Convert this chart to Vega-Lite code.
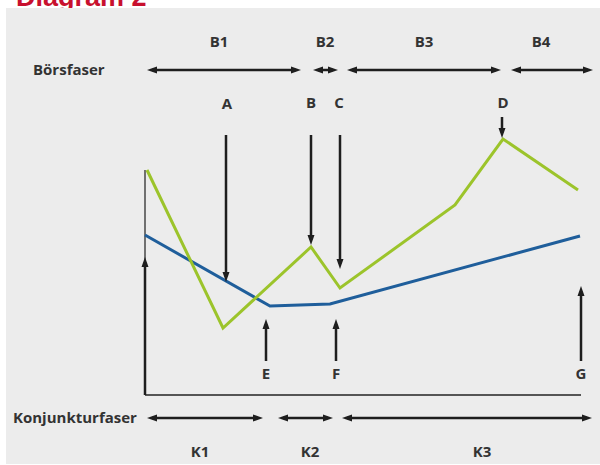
{
  "$schema": "https://vega.github.io/schema/vega-lite/v6.json",
  "width": 600,
  "height": 465,
  "autosize": {"type": "none"},
  "padding": 0,
  "background": "#ffffff",
  "config": {"view": {"stroke": null}},
  "datasets": {
    "title": [{"t": "Diagram 2", "x": 3.2, "y": 91.8}],
    "panel": [{"x": 1.2, "x2": 120, "y": 0.2, "y2": 91.4}],
    "axisV": [{"x": 29, "y": 14, "y2": 59}],
    "axisH": [{"x": 29, "x2": 116.2, "y": 14}],
    "blue": [
      {"x": 29, "y": 46},
      {"x": 54, "y": 31.8},
      {"x": 66, "y": 32.2},
      {"x": 116, "y": 45.8}
    ],
    "green": [
      {"x": 29.4, "y": 59},
      {"x": 44.6, "y": 27.4},
      {"x": 62.2, "y": 43.6},
      {"x": 68, "y": 35.4},
      {"x": 91, "y": 52},
      {"x": 100.6, "y": 65.2},
      {"x": 115.6, "y": 55}
    ],
    "vshafts": [
      {"x": 45.2, "y": 66, "y2": 37.6},
      {"x": 62.2, "y": 66, "y2": 45},
      {"x": 68, "y": 66, "y2": 40.2},
      {"x": 100.4, "y": 69.6, "y2": 66.4},
      {"x": 53.2, "y": 20.8, "y2": 28.2},
      {"x": 67.2, "y": 20.8, "y2": 28.2},
      {"x": 116.2, "y": 20.8, "y2": 34.8},
      {"x": 29, "y": 14, "y2": 40.6}
    ],
    "hshafts": [
      {"x": 30.4, "x2": 59.2, "y": 79},
      {"x": 63.6, "x2": 66.6, "y": 79},
      {"x": 70.4, "x2": 99.2, "y": 79},
      {"x": 103.2, "x2": 117.6, "y": 79},
      {"x": 30.4, "x2": 51.6, "y": 9.4},
      {"x": 56.6, "x2": 65.6, "y": 9.4},
      {"x": 69.4, "x2": 117.4, "y": 9.4}
    ],
    "heads": [
      {"x": 45.2, "y": 37.6, "dir": "down"},
      {"x": 62.2, "y": 45, "dir": "down"},
      {"x": 68, "y": 40.2, "dir": "down"},
      {"x": 100.4, "y": 66.4, "dir": "down"},
      {"x": 53.2, "y": 28.2, "dir": "up"},
      {"x": 67.2, "y": 28.2, "dir": "up"},
      {"x": 116.2, "y": 34.8, "dir": "up"},
      {"x": 29, "y": 40.6, "dir": "up"},
      {"x": 30.4, "y": 79, "dir": "left"},
      {"x": 59.2, "y": 79, "dir": "right"},
      {"x": 63.6, "y": 79, "dir": "left"},
      {"x": 66.6, "y": 79, "dir": "right"},
      {"x": 70.4, "y": 79, "dir": "left"},
      {"x": 99.2, "y": 79, "dir": "right"},
      {"x": 103.2, "y": 79, "dir": "left"},
      {"x": 117.6, "y": 79, "dir": "right"},
      {"x": 30.4, "y": 9.4, "dir": "left"},
      {"x": 51.6, "y": 9.4, "dir": "right"},
      {"x": 56.6, "y": 9.4, "dir": "left"},
      {"x": 65.6, "y": 9.4, "dir": "right"},
      {"x": 69.4, "y": 9.4, "dir": "left"},
      {"x": 117.4, "y": 9.4, "dir": "right"}
    ],
    "labels": [
      {"t": "B1", "x": 43.8, "y": 84.6},
      {"t": "B2", "x": 65, "y": 84.6},
      {"t": "B3", "x": 84.8, "y": 84.6},
      {"t": "B4", "x": 108.2, "y": 84.6},
      {"t": "A", "x": 45.4, "y": 72.2},
      {"t": "B", "x": 62.2, "y": 72.4},
      {"t": "C", "x": 67.8, "y": 72.4},
      {"t": "D", "x": 100.6, "y": 72.4},
      {"t": "E", "x": 53.2, "y": 18.2},
      {"t": "F", "x": 67.2, "y": 18.2},
      {"t": "G", "x": 116.2, "y": 18.2},
      {"t": "K1", "x": 40, "y": 2.6},
      {"t": "K2", "x": 62, "y": 2.6},
      {"t": "K3", "x": 96.4, "y": 2.6}
    ],
    "rowlabels": [
      {"t": "Börsfaser", "x": 6.6, "y": 79},
      {"t": "Konjunkturfaser", "x": 2.6, "y": 9.4}
    ]
  },
  "layer": [
    {
      "data": {"name": "title"},
      "mark": {"type": "text", "align": "left", "baseline": "alphabetic", "font": "Liberation Sans", "fontWeight": "bold", "fontSize": 27, "color": "#c8102e"},
      "encoding": {
        "x": {"field": "x", "type": "quantitative", "scale": {"domain": [0, 120], "nice": false, "zero": false}, "axis": null},
        "y": {"field": "y", "type": "quantitative", "scale": {"domain": [0, 93], "nice": false, "zero": false}, "axis": null},
        "text": {"field": "t"}
      }
    },
    {
      "data": {"name": "panel"},
      "mark": {"type": "rect", "color": "#ececec"},
      "encoding": {
        "x": {"field": "x", "type": "quantitative"},
        "x2": {"field": "x2"},
        "y": {"field": "y", "type": "quantitative"},
        "y2": {"field": "y2"}
      }
    },
    {
      "data": {"name": "axisV"},
      "mark": {"type": "rule", "color": "#707070", "strokeWidth": 2},
      "encoding": {
        "x": {"field": "x", "type": "quantitative"},
        "y": {"field": "y", "type": "quantitative"},
        "y2": {"field": "y2"}
      }
    },
    {
      "data": {"name": "axisH"},
      "mark": {"type": "rule", "color": "#555555", "strokeWidth": 2},
      "encoding": {
        "x": {"field": "x", "type": "quantitative"},
        "x2": {"field": "x2"},
        "y": {"field": "y", "type": "quantitative"}
      }
    },
    {
      "data": {"name": "blue"},
      "mark": {"type": "line", "color": "#1f5e9b", "strokeWidth": 3},
      "encoding": {
        "x": {"field": "x", "type": "quantitative"},
        "y": {"field": "y", "type": "quantitative"}
      }
    },
    {
      "data": {"name": "green"},
      "mark": {"type": "line", "color": "#9cc42b", "strokeWidth": 3},
      "encoding": {
        "x": {"field": "x", "type": "quantitative"},
        "y": {"field": "y", "type": "quantitative"}
      }
    },
    {
      "data": {"name": "vshafts"},
      "mark": {"type": "rule", "color": "#1e1e1e", "strokeWidth": 2.5},
      "encoding": {
        "x": {"field": "x", "type": "quantitative"},
        "y": {"field": "y", "type": "quantitative"},
        "y2": {"field": "y2"}
      }
    },
    {
      "data": {"name": "hshafts"},
      "mark": {"type": "rule", "color": "#1e1e1e", "strokeWidth": 2.5},
      "encoding": {
        "x": {"field": "x", "type": "quantitative"},
        "x2": {"field": "x2"},
        "y": {"field": "y", "type": "quantitative"}
      }
    },
    {
      "data": {"name": "heads"},
      "mark": {"type": "point", "filled": true, "color": "#1e1e1e", "size": 100, "opacity": 1, "strokeWidth": 0},
      "encoding": {
        "x": {"field": "x", "type": "quantitative"},
        "y": {"field": "y", "type": "quantitative"},
        "shape": {
          "field": "dir",
          "type": "nominal",
          "scale": {
            "domain": ["up", "down", "left", "right"],
            "range": ["M0,-1L-0.7,1L0.7,1Z", "M0,1L-0.7,-1L0.7,-1Z", "M-1,0L1,-0.7L1,0.7Z", "M1,0L-1,-0.7L-1,0.7Z"]
          },
          "legend": null
        }
      }
    },
    {
      "data": {"name": "labels"},
      "mark": {"type": "text", "align": "center", "baseline": "middle", "font": "Open Sans", "fontWeight": "bold", "fontSize": 15, "color": "#333333"},
      "encoding": {
        "x": {"field": "x", "type": "quantitative"},
        "y": {"field": "y", "type": "quantitative"},
        "text": {"field": "t"}
      }
    },
    {
      "data": {"name": "rowlabels"},
      "mark": {"type": "text", "align": "left", "baseline": "middle", "font": "Open Sans", "fontWeight": "bold", "fontSize": 15, "color": "#333333"},
      "encoding": {
        "x": {"field": "x", "type": "quantitative"},
        "y": {"field": "y", "type": "quantitative"},
        "text": {"field": "t"}
      }
    }
  ]
}
